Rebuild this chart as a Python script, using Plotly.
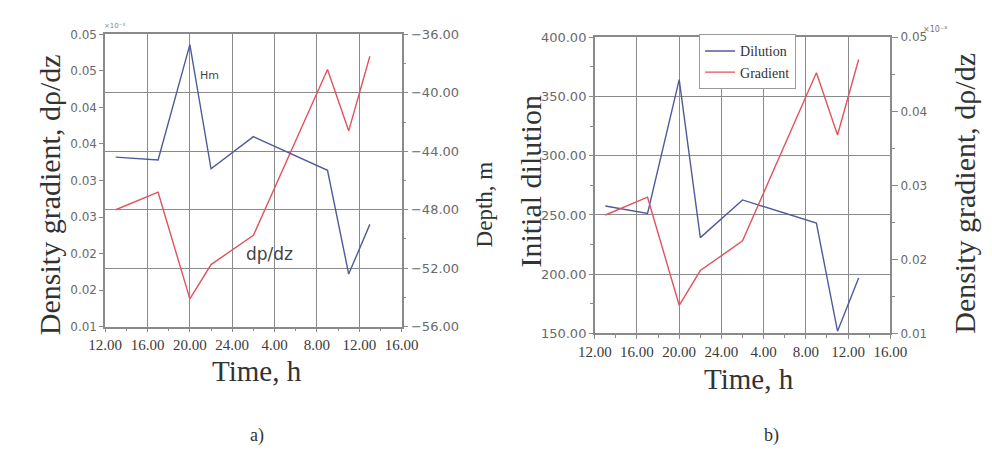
import plotly.graph_objects as go

# ---- data ----
times = [13, 17, 20, 22, 26, 33, 35, 37]            # hours from 12:00 of day 1
depth_hm = [-44.4, -44.6, -36.7, -45.2, -43.0, -45.3, -52.4, -49.0]
gradient = [0.0260, 0.0284, 0.0138, 0.0185, 0.0225, 0.0452, 0.0368, 0.0470]
dilution = [257.6, 251.3, 364.3, 230.9, 262.7, 243.1, 151.9, 196.8]

x_tickvals = [12, 16, 20, 24, 28, 32, 36, 40]
x_ticktext = ["12.00", "16.00", "20.00", "24.00", "4.00", "8.00", "12.00", "16.00"]
grad_a_tickvals = [0.01, 0.015, 0.02, 0.025, 0.03, 0.035, 0.04, 0.045, 0.05]
grad_a_ticktext = ["0.01", "0.02", "0.02", "0.03", "0.03", "0.04", "0.04", "0.05", "0.05"]
grad_b_tickvals = [0.01, 0.02, 0.03, 0.04, 0.05]
grad_b_ticktext = ["0.01", "0.02", "0.03", "0.04", "0.05"]

BLUE = "#4f5b98"
RED = "#e2525f"
GRID = "#8a8a8a"
AXIS = "#8a8a8a"
SERIF = "Liberation Serif"
SANS = "DejaVu Sans"
W, H = 992, 468

fig = go.Figure()
fig.add_trace(go.Scatter(x=times, y=gradient, mode="lines", line=dict(color=RED, width=1.4),
                         xaxis="x", yaxis="y", showlegend=False))
fig.add_trace(go.Scatter(x=times, y=depth_hm, mode="lines", line=dict(color=BLUE, width=1.4),
                         xaxis="x", yaxis="y2", showlegend=False))
fig.add_trace(go.Scatter(x=times, y=dilution, mode="lines", name="Dilution",
                         line=dict(color=BLUE, width=1.4), xaxis="x2", yaxis="y3"))
fig.add_trace(go.Scatter(x=times, y=gradient, mode="lines", name="Gradient",
                         line=dict(color=RED, width=1.4), xaxis="x2", yaxis="y4"))

xcommon = dict(range=[12, 40], tickvals=x_tickvals, ticktext=x_ticktext,
               showgrid=True, gridcolor=GRID, gridwidth=1, showline=True, linecolor=AXIS,
               linewidth=1.5, mirror=True, ticks="outside", ticklen=4, tickcolor=AXIS,
               minor=dict(dtick=2, tick0=12, ticks="outside", ticklen=3, tickcolor=AXIS, showgrid=False),
               tickfont=dict(family=SERIF, size=15, color="#3a3a3a"), zeroline=False)
ytickfont = dict(family=SANS, size=12, color="#6a6a6a")

fig.update_layout(
    width=W, height=H, margin=dict(l=0, r=0, t=0, b=0),
    paper_bgcolor="white", plot_bgcolor="white",
    xaxis=dict(domain=[83 / W, 390 / W], anchor="y", **xcommon),
    yaxis=dict(domain=[1 - 322 / H, 1 - 20 / H], anchor="x", range=[0.01, 0.05],
               tickvals=grad_a_tickvals, ticktext=grad_a_ticktext, showgrid=False,
               showline=True, linecolor=AXIS, linewidth=1.5, ticks="outside", ticklen=4,
               tickcolor=AXIS, tickfont=ytickfont, zeroline=False),
    yaxis2=dict(overlaying="y", side="right", anchor="x", range=[-56, -36], dtick=4,
                tick0=-56, tickformat=".2f", showgrid=True, gridcolor=GRID, gridwidth=1,
                showline=True, linecolor=AXIS, linewidth=1.5, ticks="outside", ticklen=5,
                tickcolor=AXIS, minor=dict(dtick=2, ticks="outside", ticklen=3, tickcolor=AXIS),
                tickfont=dict(family=SANS, size=13, color="#6a6a6a"), zeroline=False),
    xaxis2=dict(domain=[590 / W, 896 / W], anchor="y3", **xcommon),
    yaxis3=dict(domain=[1 - 329 / H, 1 - 23 / H], anchor="x2", range=[150, 400], dtick=50,
                tick0=150, tickformat=".2f", showgrid=True, gridcolor=GRID, gridwidth=1,
                showline=True, linecolor=AXIS, linewidth=1.5, ticks="outside", ticklen=4,
                tickcolor=AXIS, minor=dict(dtick=25, ticks="outside", ticklen=3, tickcolor=AXIS),
                tickfont=dict(family=SANS, size=13, color="#6a6a6a"), zeroline=False),
    yaxis4=dict(overlaying="y3", side="right", anchor="x2", range=[0.01, 0.05],
                tickvals=grad_b_tickvals, ticktext=grad_b_ticktext, showgrid=False,
                showline=True, linecolor=AXIS, linewidth=1.5, ticks="outside", ticklen=6,
                tickcolor=AXIS, minor=dict(dtick=0.005, tick0=0.01, ticks="outside", ticklen=3,
                                           tickcolor=AXIS),
                tickfont=ytickfont, zeroline=False),
    legend=dict(x=698 / W, y=1 - 20 / H, xanchor="left", yanchor="top",
                bgcolor="white", bordercolor="#999", borderwidth=1,
                font=dict(family=SERIF, size=14, color="#333"), tracegroupgap=0,
                itemwidth=30),
)

def ann(text, x, y, size, family=SERIF, angle=0, color="#333"):
    fig.add_annotation(text=text, x=x / W, y=1 - y / H, xref="paper", yref="paper",
                       showarrow=False, textangle=angle, xanchor="center", yanchor="middle",
                       font=dict(family=family, size=size, color=color))

ann("Density gradient, dρ/dz", 25, 186, 30, angle=-90)
ann("Depth, m", 476, 196, 23, angle=-90)
ann("Time, h", 240, 368, 29)
ann("Initial dilution", 523, 172, 30, angle=-90)
ann("Density gradient, dρ/dz", 972, 184, 30, angle=-90)
ann("Time, h", 750, 376, 29)
ann("Hm", 191, 62, 11, family=SANS, color="#444")
ann("dp/dz", 253, 247, 17, family=SANS, color="#444")
ann("×10⁻³", 93, 11, 7, family=SANS, color="#888")
ann("×10⁻³", 942, 15, 8, family=SANS, color="#777")
ann("a)", 240, 434, 18)
ann("b)", 773, 434, 18)

fig.write_html("out.html")
